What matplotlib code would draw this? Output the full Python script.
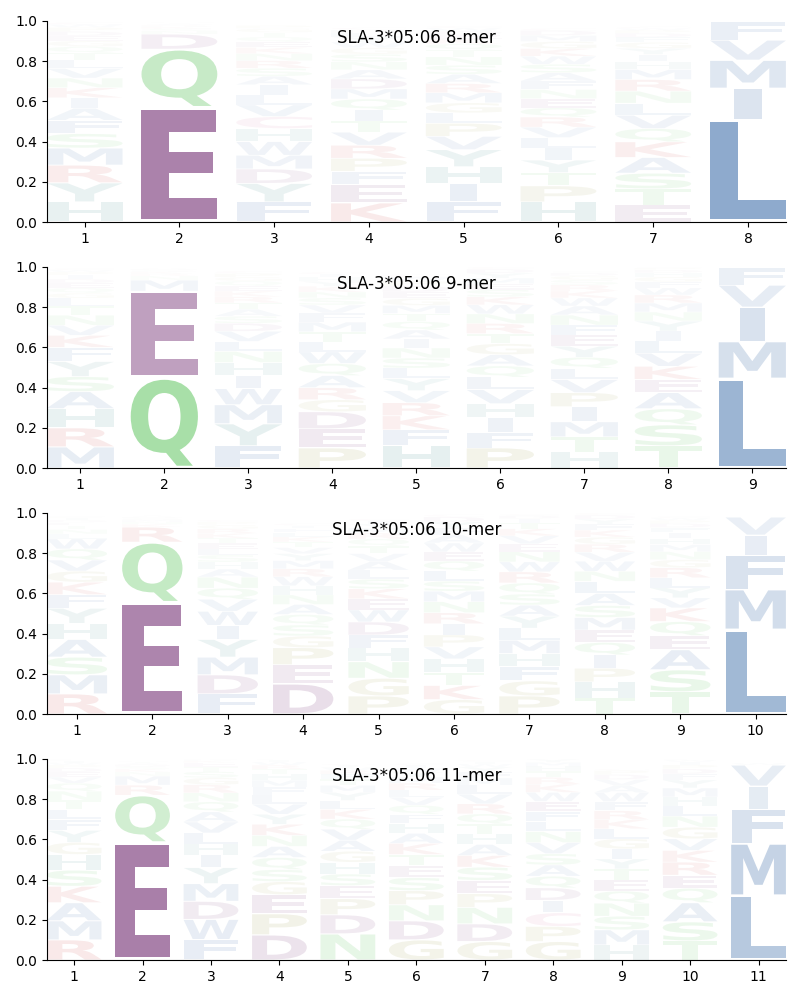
import matplotlib
matplotlib.use("Agg")
import matplotlib.pyplot as plt
from matplotlib.textpath import TextPath
from matplotlib.font_manager import FontProperties
from matplotlib.patches import PathPatch
from matplotlib.transforms import Affine2D

# ---------------- data (letters bottom -> top, heights = probability) ----------------
titles = ["SLA-3*05:06 8-mer", "SLA-3*05:06 9-mer", "SLA-3*05:06 10-mer", "SLA-3*05:06 11-mer"]

letters_8 = ["HYRMSFAIKNVLTQGEDPWC", "EQDNSKRATG", "FYDMWHCVLIASRNKEQTGP",
             "KEFPRVTIQMDANSGWYLHC", "FIHYVPLGMRASNTQKEDWC", "HPTYILVRQENFASWKGMDC",
             "ETSAKQVLNRMHIYGFDPWC", "LIMVF"]
heights_8 = [
    [.10, .095, .088, .085, .072, .066, .06, .052, .05, .048, .048, .042, .035, .032, .028, .025, .022, .02, .015, .01],
    [.57, .29, .075, .015, .012, .01, .008, .006, .005, .004],
    [.10, .092, .072, .068, .068, .065, .06, .058, .05, .05, .042, .04, .038, .035, .03, .028, .025, .022, .02, .015],
    [.095, .092, .065, .065, .065, .065, .055, .055, .055, .05, .05, .045, .04, .038, .032, .028, .025, .022, .015, .01],
    [.10, .09, .085, .085, .066, .065, .052, .05, .05, .046, .046, .045, .042, .035, .03, .025, .02, .018, .015, .01],
    [.10, .08, .066, .062, .06, .052, .052, .05, .046, .046, .045, .042, .042, .042, .04, .038, .035, .03, .025, .01],
    [.085, .08, .078, .078, .078, .066, .066, .06, .06, .058, .05, .04, .035, .03, .03, .025, .02, .015, .01, .008],
    [.51, .155, .14, .10, .09],
]

letters_9 = ["MRHASYFKVNTLGQEDIPWC", "QEMNRKSDA", "FYMWIHNLVDSATRKEQGPC",
             "PEDGRAQWLTMFVSNKYHIC", "HFKRVYLSNIAQTMGEDPWC", "PFIHVLQAGTRNWKSEMYDC",
             "HTMIPVLQYEFNAWKRSGDC", "TSQAEKVLIYNMRWFGHDPC", "LMIVF"]
heights_9 = [
    [.105, .095, .095, .085, .075, .075, .07, .06, .05, .05, .045, .04, .025, .025, .025, .02, .02, .015, .01, .008],
    [.45, .43, .055, .02, .012, .01, .008, .006, .005],
    [.11, .11, .095, .08, .065, .065, .055, .05, .05, .04, .035, .035, .032, .03, .028, .025, .025, .02, .018, .012],
    [.10, .095, .085, .06, .06, .06, .06, .058, .05, .05, .048, .045, .04, .035, .03, .028, .025, .02, .015, .01],
    [.11, .08, .07, .065, .06, .06, .052, .05, .05, .045, .045, .042, .04, .04, .035, .032, .03, .025, .02, .012],
    [.10, .075, .075, .07, .07, .062, .056, .056, .055, .05, .05, .048, .045, .04, .035, .03, .028, .025, .02, .01],
    [.08, .075, .075, .075, .07, .065, .056, .055, .055, .055, .05, .05, .045, .04, .035, .03, .025, .02, .015, .008],
    [.11, .105, .08, .08, .066, .065, .065, .06, .05, .05, .045, .045, .04, .035, .03, .025, .02, .015, .01, .008],
    [.445, .185, .17, .11, .085],
]

letters_10 = ["RMSAHYFKGVQWLNTEDIPC", "EQRKNMSDAT", "FDMYIWVQNAHSLETKRGPC",
              "DEPGSQANHWRMYVTKLFIC", "PGNHFDWEKSLAVTQRMYIC", "GKTHVPIRNMSLQEWAFYDC",
              "PGFHMLYASQRWNEVKTIDC", "THPIQEMSALNWVRGKFYDC", "TSAEQKVYLRGNMHIFDPWC", "LMFIV"]
heights_10 = [
    [.10, .095, .088, .088, .08, .075, .068, .062, .055, .055, .055, .05, .025, .022, .02, .015, .012, .01, .008, .005],
    [.555, .30, .075, .015, .012, .01, .008, .006, .005, .004],
    [.10, .095, .088, .088, .07, .07, .06, .055, .055, .04, .035, .035, .03, .028, .025, .025, .022, .02, .015, .01],
    [.15, .095, .085, .058, .055, .052, .05, .048, .045, .045, .04, .04, .035, .03, .028, .025, .022, .02, .015, .01],
    [.09, .088, .082, .068, .065, .065, .06, .055, .05, .048, .045, .042, .04, .038, .035, .03, .025, .02, .015, .01],
    [.072, .07, .066, .066, .06, .06, .055, .055, .055, .052, .05, .05, .05, .045, .045, .04, .035, .03, .025, .012],
    [.09, .075, .07, .066, .066, .06, .06, .055, .055, .055, .055, .05, .05, .04, .04, .035, .03, .02, .015, .008],
    [.08, .08, .068, .066, .062, .062, .062, .06, .06, .06, .05, .05, .045, .04, .035, .035, .03, .025, .02, .01],
    [.11, .11, .10, .07, .07, .068, .05, .05, .05, .05, .04, .04, .035, .03, .03, .025, .02, .015, .012, .008],
    [.42, .20, .17, .10, .09],
]

letters_11 = ["RMAKSHGYFLTNQVEDPWIC", "EQRMNKSDATG", "FWDMYIHLVAQNRGSTEKPC",
              "DPEGSQANKYVLFMHTRWIC", "NDPESHGAVQKLYMTFRWIC", "GDNPSETKAHFQVLRMYWIC",
              "GDNPESKAHTQRVLMFYWIC", "GPCIDQASVNLFEWKRTHMY", "HMSNQETYIGLKRFWAVDPC",
              "TSAQERKVGNLHMYFDPIWC", "LMFIVW"]
heights_11 = [
    [.10, .095, .09, .082, .08, .078, .06, .06, .055, .05, .045, .045, .04, .03, .025, .02, .015, .012, .01, .006],
    [.585, .235, .05, .045, .02, .015, .012, .01, .008, .006, .005],
    [.102, .10, .09, .088, .08, .062, .055, .055, .055, .05, .05, .045, .04, .035, .03, .025, .02, .01, .006, .004],
    [.125, .105, .095, .065, .06, .06, .055, .055, .055, .05, .05, .045, .04, .035, .03, .025, .02, .015, .01, .005],
    [.13, .095, .08, .065, .058, .058, .055, .055, .055, .05, .048, .045, .04, .035, .03, .025, .02, .015, .01, .006],
    [.10, .095, .08, .07, .065, .06, .055, .055, .05, .05, .045, .045, .04, .035, .035, .03, .025, .02, .015, .008],
    [.092, .088, .082, .068, .066, .066, .058, .055, .052, .05, .05, .05, .048, .045, .035, .03, .025, .015, .012, .008],
    [.092, .075, .068, .062, .062, .058, .056, .056, .055, .055, .05, .05, .05, .045, .04, .035, .03, .025, .02, .015],
    [.075, .075, .068, .065, .06, .055, .055, .05, .05, .05, .05, .045, .045, .045, .045, .035, .03, .025, .02, .008],
    [.095, .095, .095, .072, .065, .065, .058, .058, .058, .055, .05, .045, .045, .04, .03, .025, .02, .015, .01, .006],
    [.32, .26, .17, .115, .105, .01],
]

panels = [(letters_8, heights_8), (letters_9, heights_9), (letters_10, heights_10), (letters_11, heights_11)]

# ---------------- styling ----------------
group_colors = {
    "AVLIMFW": "#21589d",
    "DE": "#6c246c",
    "NQST": "#3eba3e",
    "KR": "#c82828",
    "HY": "#1e7878",
    "PG": "#8c8c28",
    "C": "#c83c78",
}
letter_color = {}
for grp, col in group_colors.items():
    for ch in grp:
        letter_color[ch] = col

FP = FontProperties(family="DejaVu Sans", weight="bold")
_paths = {}


def glyph_path(ch):
    if ch not in _paths:
        _paths[ch] = TextPath((0, 0), ch, size=1, prop=FP)
    return _paths[ch]


E_WIDTH = glyph_path("E").get_extents().width
WIDTH = 0.8
VPAD = 0.05


def draw_glyph(ax, ch, x, y0, h):
    p = glyph_path(ch)
    bb = p.get_extents()
    hs = WIDTH / max(bb.width, E_WIDTH)
    gw = bb.width * hs
    vs = h * (1 - VPAD) / bb.height
    tr = (Affine2D().translate(-bb.x0, -bb.y0).scale(hs, vs)
          .translate(x - gw / 2, y0 + h * VPAD / 2))
    patch = PathPatch(tr.transform_path(p), facecolor=letter_color[ch],
                      edgecolor="none", alpha=min(1.0, h), lw=0)
    ax.add_patch(patch)


fig = plt.figure(figsize=(8, 10), dpi=100)
bottoms = [0.778, 0.532, 0.286, 0.040]
for (letters, heights), title, bot in zip(panels, titles, bottoms):
    ax = fig.add_axes([0.0584, bot, 0.924, 0.201])
    n = len(letters)
    for i, (lets, hs) in enumerate(zip(letters, heights)):
        pos = i + 1
        pairs = sorted(zip(lets, hs), key=lambda t: -t[1])
        y = 0.0
        for ch, h in pairs:
            draw_glyph(ax, ch, pos, y, h)
            y += h
    ax.set_xlim(1 - WIDTH / 2, n + WIDTH / 2)
    ax.set_ylim(0, 1)
    ax.set_xticks(range(1, n + 1))
    ax.set_yticks([0, 0.2, 0.4, 0.6, 0.8, 1.0])
    ax.spines["top"].set_visible(False)
    ax.spines["right"].set_visible(False)
    ax.text(0.5, 0.89, title, transform=ax.transAxes, ha="center", va="baseline", fontsize=12)

fig.savefig("out.png", dpi=100)
